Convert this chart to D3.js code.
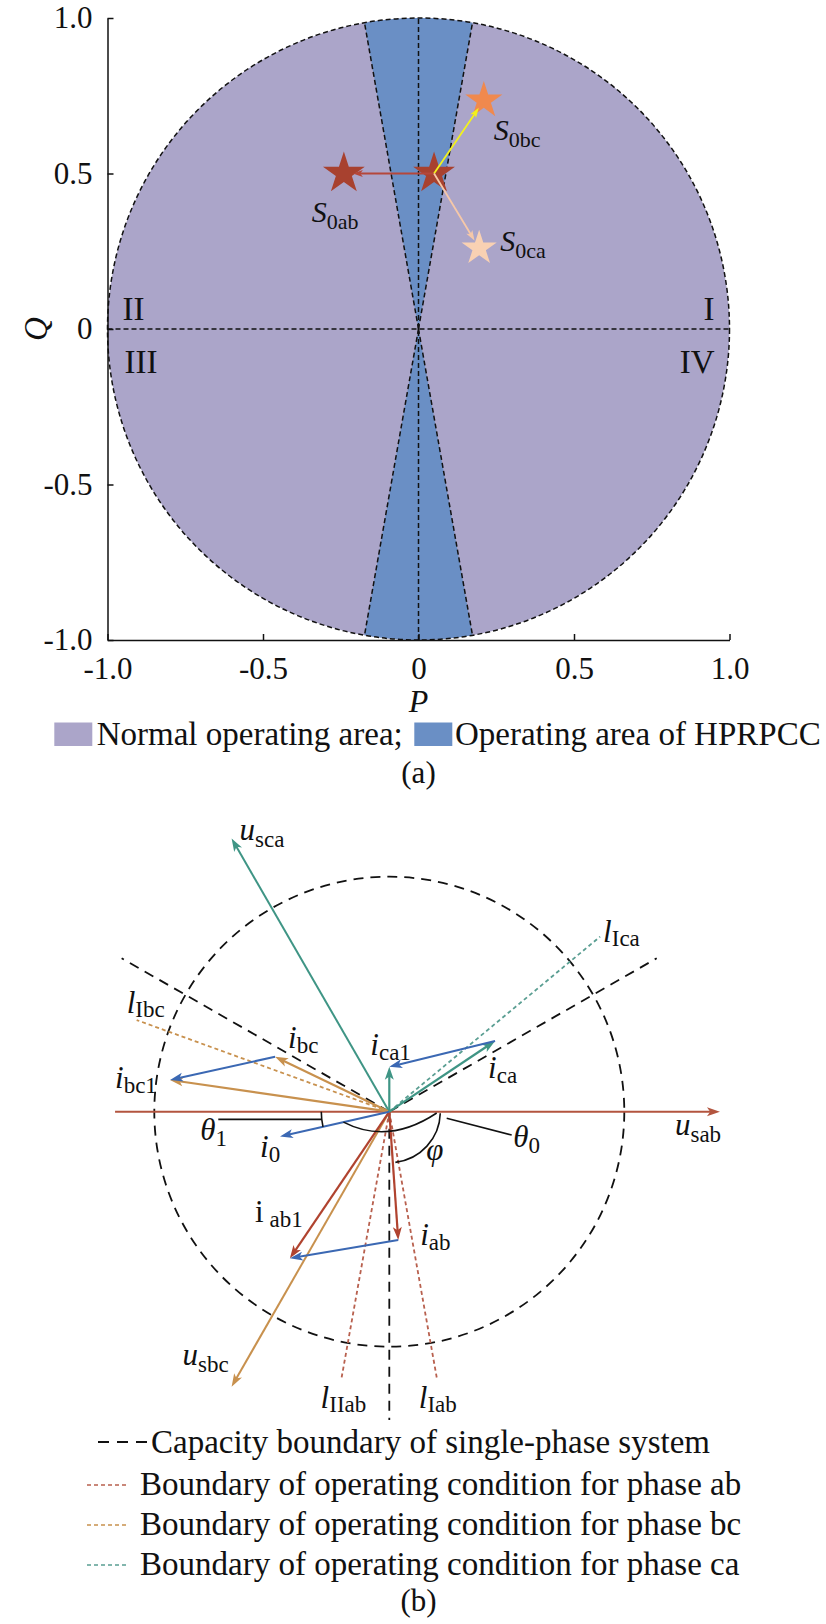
<!DOCTYPE html>
<html>
<head>
<meta charset="utf-8">
<script src="https://cdn.jsdelivr.net/npm/d3@7"></script>
<style>
  body { margin: 0; background: #fff; }
</style>
</head>
<body>
<div id="canvas"></div>
<script>
// ---- panel (a): P-Q operating plane ----
const pTicks = [-1.0, -0.5, 0, 0.5, 1.0];
const qTicks = [-1.0, -0.5, 0, 0.5, 1.0];
const tickLabels = ["-1.0", "-0.5", "0", "0.5", "1.0"];
const areaNames = ["Normal operating area;", "Operating area of HPRPCC"];
const hprpccHalfAngle = 10; // degrees each side of the Q axis
const quadrants = ["I", "II", "III", "IV"];
const starNames = ["0", "0ab", "0bc", "0ca"];
const starP = [0.05, -0.24, 0.21, 0.195];
const starQ = [0.5, 0.5, 0.735, 0.26];

// ---- panel (b): phasor diagram, capacity circle radius = 1 ----
const voltNames = ["sab", "sca", "sbc"];
const voltX = [1.407, -0.671, -0.671];
const voltY = [0, 1.163, -1.17];
const usabTail = -1.167;
const currNames = ["ab", "ab1", "bc", "bc1", "ca", "ca1", "0"];
const currX = [0.038, -0.423, -0.486, -0.933, 0.45, 0, -0.465];
const currY = [-0.546, -0.624, 0.234, 0.135, 0.301, 0.191, -0.106];
const capX = [1.138, -1.139, 0];
const capY = [0.653, 0.653, -1.312];
const bndNames = ["Ica", "Ibc", "Iab", "IIab"];
const bndX = [0.897, -1.075, 0.202, -0.203];
const bndY = [0.745, 0.39, -1.132, -1.132];
const legendB = [
  "Capacity boundary of single-phase system",
  "Boundary of operating condition for phase ab",
  "Boundary of operating condition for phase bc",
  "Boundary of operating condition for phase ca"
];

const serif = '"Liberation Serif", "Times New Roman", serif';
const col = { ab: "#b0432f", bc: "#c8914e", ca: "#3f9585", comp: "#3b68b3", usab: "#b3553f" };
const dotCol = { ab: "#b8604e", bc: "#c8914e", ca: "#5a9e92" };

const svg = d3.select("#canvas").append("svg").attr("width", 826).attr("height", 1624);

function arrow(g, x1, y1, x2, y2, color, w, len, half) {
  const a = Math.atan2(y2 - y1, x2 - x1);
  g.append("line")
    .attr("x1", x1).attr("y1", y1)
    .attr("x2", x2 - Math.cos(a) * len * 0.7).attr("y2", y2 - Math.sin(a) * len * 0.7)
    .attr("stroke", color).attr("stroke-width", w);
  g.append("path")
    .attr("d", `M0,0L${-len},${-half}L${-len * 0.75},0L${-len},${half}Z`)
    .attr("transform", `translate(${x2},${y2}) rotate(${a * 180 / Math.PI})`)
    .attr("fill", color);
}

function label(g, x, y, main, sub, size, subSize, dy, italic = true, dx = 0) {
  const t = g.append("text").attr("x", x).attr("y", y)
    .attr("font-family", serif).attr("font-size", size).attr("fill", "#111");
  t.append("tspan").attr("font-style", italic ? "italic" : "normal").text(main);
  t.append("tspan").attr("font-size", subSize).attr("dy", dy).attr("dx", dx).text(sub);
}

// =============== panel (a) ===============
const x = d3.scaleLinear().domain([-1, 1]).range([107.5, 729.5]);
const y = d3.scaleLinear().domain([-1, 1]).range([640, 18]);
const r = x(1) - x(0);
const ga = svg.append("g");
const dashA = "5,3";

ga.append("circle").attr("cx", x(0)).attr("cy", y(0)).attr("r", r).attr("fill", "#aba5c9");

const wedge = d3.arc().innerRadius(0).outerRadius(r);
const h = hprpccHalfAngle * Math.PI / 180;
[[-h, h], [Math.PI - h, Math.PI + h]].forEach(([a0, a1]) => {
  ga.append("path")
    .attr("d", wedge({ startAngle: a0, endAngle: a1 }))
    .attr("transform", `translate(${x(0)},${y(0)})`)
    .attr("fill", "#6a8fc5");
});

ga.append("circle").attr("cx", x(0)).attr("cy", y(0)).attr("r", r)
  .attr("fill", "none").attr("stroke", "#111").attr("stroke-width", 1.5).attr("stroke-dasharray", dashA);

// wedge edges
[90 - hprpccHalfAngle, 90 + hprpccHalfAngle, 270 - hprpccHalfAngle, 270 + hprpccHalfAngle].forEach(deg => {
  const a = deg * Math.PI / 180;
  ga.append("line").attr("x1", x(0)).attr("y1", y(0))
    .attr("x2", x(Math.cos(a))).attr("y2", y(Math.sin(a)))
    .attr("stroke", "#111").attr("stroke-width", 1.5).attr("stroke-dasharray", dashA);
});
ga.append("line").attr("x1", x(0)).attr("x2", x(0)).attr("y1", y(-1)).attr("y2", y(1))
  .attr("stroke", "#111").attr("stroke-width", 1.5).attr("stroke-dasharray", dashA);
ga.append("line").attr("x1", x(-1)).attr("x2", x(1)).attr("y1", y(0)).attr("y2", y(0))
  .attr("stroke", "#111").attr("stroke-width", 1.5).attr("stroke-dasharray", dashA);

// axes, ticks pointing inward
const xAxis = ga.append("g").attr("transform", `translate(0,${y(-1)})`)
  .call(d3.axisBottom(x).tickValues(pTicks).tickFormat((d, i) => tickLabels[i])
    .tickSizeInner(-6).tickSizeOuter(0).tickPadding(17));
const yAxis = ga.append("g").attr("transform", `translate(${x(-1)},0)`)
  .call(d3.axisLeft(y).tickValues(qTicks).tickFormat((d, i) => tickLabels[i])
    .tickSizeInner(-6).tickSizeOuter(0).tickPadding(15));
[xAxis, yAxis].forEach(ax => {
  ax.attr("font-family", serif).attr("font-size", 31);
  ax.selectAll("path, line").attr("stroke", "#111").attr("stroke-width", 1.5);
  ax.selectAll("text").attr("fill", "#111");
});

// quadrant numerals
const qPos = { I: [x(1) - 15, y(0) - 9, "end"], II: [x(-1) + 15, y(0) - 9, "start"],
  III: [x(-1) + 17, y(0) + 44, "start"], IV: [x(1) - 15, y(0) + 44, "end"] };
quadrants.forEach(q => {
  ga.append("text").attr("x", qPos[q][0]).attr("y", qPos[q][1]).attr("text-anchor", qPos[q][2])
    .attr("font-family", serif).attr("font-size", 33).attr("fill", "#111").text(q);
});

// stars and moves
const starFill = ["#a8412f", "#a8412f", "#f0894e", "#f9d1b3"];
const starR = [22, 22, 19.5, 18.5];
starNames.forEach((n, i) => {
  ga.append("path")
    .attr("d", d3.symbol(d3.symbolStar, starR[i] * starR[i] / 0.8908)())
    .attr("transform", `translate(${x(starP[i])},${y(starQ[i])})`)
    .attr("fill", starFill[i]);
});
const moveCol = ["", "#b5473a", "#f2f21c", "#f6c8a8"];
for (let i = 1; i < 4; i++) {
  const x1 = x(starP[0]), y1 = y(starQ[0]), x2 = x(starP[i]), y2 = y(starQ[i]);
  const a = Math.atan2(y2 - y1, x2 - x1);
  arrow(ga, x1, y1, x2 - Math.cos(a) * 9, y2 - Math.sin(a) * 9, moveCol[i], 1.8, 10, 3.5);
}
const sOff = [null, [-32, 48], [10, 40], [21, 3]];
for (let i = 1; i < 4; i++) {
  label(ga, x(starP[i]) + sOff[i][0], y(starQ[i]) + sOff[i][1], "S", starNames[i], 30, 22, 7);
}

// axis titles
ga.append("text").attr("x", x(0)).attr("y", 712).attr("text-anchor", "middle")
  .attr("font-family", serif).attr("font-size", 32).attr("font-style", "italic").attr("fill", "#111").text("P");
ga.append("text").attr("transform", `translate(47,${y(0)}) rotate(-90)`).attr("text-anchor", "middle")
  .attr("font-family", serif).attr("font-size", 33).attr("font-style", "italic").attr("fill", "#111").text("Q");

// legend (a)
const legA = [[54.3, 96.7, "#aba5c9"], [414.3, 455, "#6a8fc5"]];
areaNames.forEach((n, i) => {
  ga.append("rect").attr("x", legA[i][0]).attr("y", 722.5).attr("width", 38).attr("height", 23.5).attr("fill", legA[i][2]);
  ga.append("text").attr("x", legA[i][1]).attr("y", 745).attr("font-family", serif).attr("font-size", 33)
    .attr("fill", "#111").text(n);
});
ga.append("text").attr("x", x(0)).attr("y", 783).attr("text-anchor", "middle")
  .attr("font-family", serif).attr("font-size", 31).attr("fill", "#111").text("(a)");

// =============== panel (b) ===============
const bx = d3.scaleLinear().domain([-1, 1]).range([154.3, 624.3]);
const by = d3.scaleLinear().domain([-1, 1]).range([1346.7, 876.7]);
const gb = svg.append("g");
const ox = bx(0), oy = by(0);
const dashB = "10,7", dotB = "4,3";

gb.append("circle").attr("cx", ox).attr("cy", oy).attr("r", bx(1) - bx(0))
  .attr("fill", "none").attr("stroke", "#111").attr("stroke-width", 1.8).attr("stroke-dasharray", dashB);
capX.forEach((cx, i) => {
  gb.append("line").attr("x1", ox).attr("y1", oy).attr("x2", bx(cx)).attr("y2", by(capY[i]))
    .attr("stroke", "#111").attr("stroke-width", 1.8).attr("stroke-dasharray", dashB);
});
bndNames.forEach((n, i) => {
  const ph = n.slice(-2);
  gb.append("line").attr("x1", ox).attr("y1", oy).attr("x2", bx(bndX[i])).attr("y2", by(bndY[i]))
    .attr("stroke", dotCol[ph]).attr("stroke-width", 1.8).attr("stroke-dasharray", dotB);
});

// supply voltages
arrow(gb, bx(usabTail), oy, bx(voltX[0]), by(voltY[0]), col.usab, 2, 13, 4.5);
arrow(gb, ox, oy, bx(voltX[1]), by(voltY[1]), col.ca, 2, 13, 4.5);
arrow(gb, ox, oy, bx(voltX[2]), by(voltY[2]), col.bc, 2, 13, 4.5);

// phase currents, before and after compensation
const cIdx = n => currNames.indexOf(n);
["ab", "ab1", "bc", "bc1", "ca", "ca1"].forEach(n => {
  const i = cIdx(n);
  arrow(gb, ox, oy, bx(currX[i]), by(currY[i]), col[n.slice(0, 2)], 2.2, 13, 4.5);
});
// compensation current i0 and its shifted copies
arrow(gb, ox, oy, bx(currX[cIdx("0")]), by(currY[cIdx("0")]), col.comp, 2, 13, 4.5);
[["ab", "ab1"], ["bc", "bc1"], ["ca", "ca1"]].forEach(([a, b]) => {
  arrow(gb, bx(currX[cIdx(a)]), by(currY[cIdx(a)]), bx(currX[cIdx(b)]), by(currY[cIdx(b)]), col.comp, 2, 13, 4.5);
});

// angle marks
const i0a = Math.atan2(by(currY[cIdx("0")]) - oy, bx(currX[cIdx("0")]) - ox);
const iaba = Math.atan2(by(currY[cIdx("ab")]) - oy, bx(currX[cIdx("ab")]) - ox);
const p1 = d3.path();
p1.arc(ox, oy, 68, i0a, Math.PI);
gb.append("path").attr("d", p1.toString()).attr("fill", "none").attr("stroke", "#111").attr("stroke-width", 1.6);
gb.append("line").attr("x1", ox - 171).attr("x2", ox - 67.6).attr("y1", oy + 7.6).attr("y2", oy + 7.6)
  .attr("stroke", "#111").attr("stroke-width", 1.8);
const p0 = d3.path();
p0.moveTo(ox + 47 * Math.cos(i0a), oy + 47 * Math.sin(i0a));
p0.quadraticCurveTo(ox - 1, oy + 33.5, ox + 47.4, oy + 1.3);
gb.append("path").attr("d", p0.toString()).attr("fill", "none").attr("stroke", "#111").attr("stroke-width", 1.6);
gb.append("line").attr("x1", ox + 57.4).attr("y1", oy + 6.6).attr("x2", ox + 122.4).attr("y2", oy + 23.3)
  .attr("stroke", "#111").attr("stroke-width", 1.6);
const pf = d3.path();
pf.arc(ox, oy, 51, 0.03, iaba - 0.05);
gb.append("path").attr("d", pf.toString()).attr("fill", "none").attr("stroke", "#111").attr("stroke-width", 1.6);

// phasor labels (offsets in px from the arrow tip)
const S = 31, s = 23;
const vOff = { sab: [-45, 23], sca: [8, 2], sbc: [-49, -22] };
voltNames.forEach((n, i) => {
  label(gb, bx(voltX[i]) + vOff[n][0], by(voltY[i]) + vOff[n][1], "u", n, S, s, 7);
});
const cOff = { ab: [22, 5], bc: [13, -9], bc1: [-55, 8], ca: [-7, 37], ca1: [-19, -12], "0": [-20, 20] };
Object.keys(cOff).forEach(n => {
  const i = cIdx(n);
  label(gb, bx(currX[i]) + cOff[n][0], by(currY[i]) + cOff[n][1], "i", n, S, s, 5);
});
label(gb, bx(currX[cIdx("ab1")]) - 35, by(currY[cIdx("ab1")]) - 36, "i", "ab1", S, s, 5, false, 6);
const lOff = { Ica: [3, 5], Ibc: [-10, -7], Iab: [-18, 30], IIab: [-21, 30] };
bndNames.forEach((n, i) => {
  label(gb, bx(bndX[i]) + lOff[n][0], by(bndY[i]) + lOff[n][1], "l", n, S, s, 4);
});
label(gb, ox - 189, oy + 28, "\u03b8", "1", S, s, 6);
label(gb, ox + 124, oy + 35, "\u03b8", "0", S, s, 6);
gb.append("text").attr("x", ox + 37).attr("y", oy + 48).attr("font-family", serif).attr("font-size", S)
  .attr("font-style", "italic").attr("fill", "#111").text("\u03c6");

// legend (b)
const legY = [1453, 1495, 1535, 1575];
const legCol = ["#111", dotCol.ab, dotCol.bc, dotCol.ca];
legendB.forEach((t, i) => {
  if (i === 0) {
    gb.append("line").attr("x1", 98).attr("x2", 147).attr("y1", legY[i] - 11).attr("y2", legY[i] - 11)
      .attr("stroke", legCol[i]).attr("stroke-width", 1.8).attr("stroke-dasharray", "11,8");
  } else {
    gb.append("line").attr("x1", 87).attr("x2", 129).attr("y1", legY[i] - 10).attr("y2", legY[i] - 10)
      .attr("stroke", legCol[i]).attr("stroke-width", 1.5).attr("stroke-dasharray", "4,3");
  }
  gb.append("text").attr("x", i === 0 ? 151 : 140).attr("y", legY[i])
    .attr("font-family", serif).attr("font-size", 33).attr("fill", "#111").text(t);
});
gb.append("text").attr("x", 418.5).attr("y", 1611).attr("text-anchor", "middle")
  .attr("font-family", serif).attr("font-size", 31).attr("fill", "#111").text("(b)");
</script>
</body>
</html>
